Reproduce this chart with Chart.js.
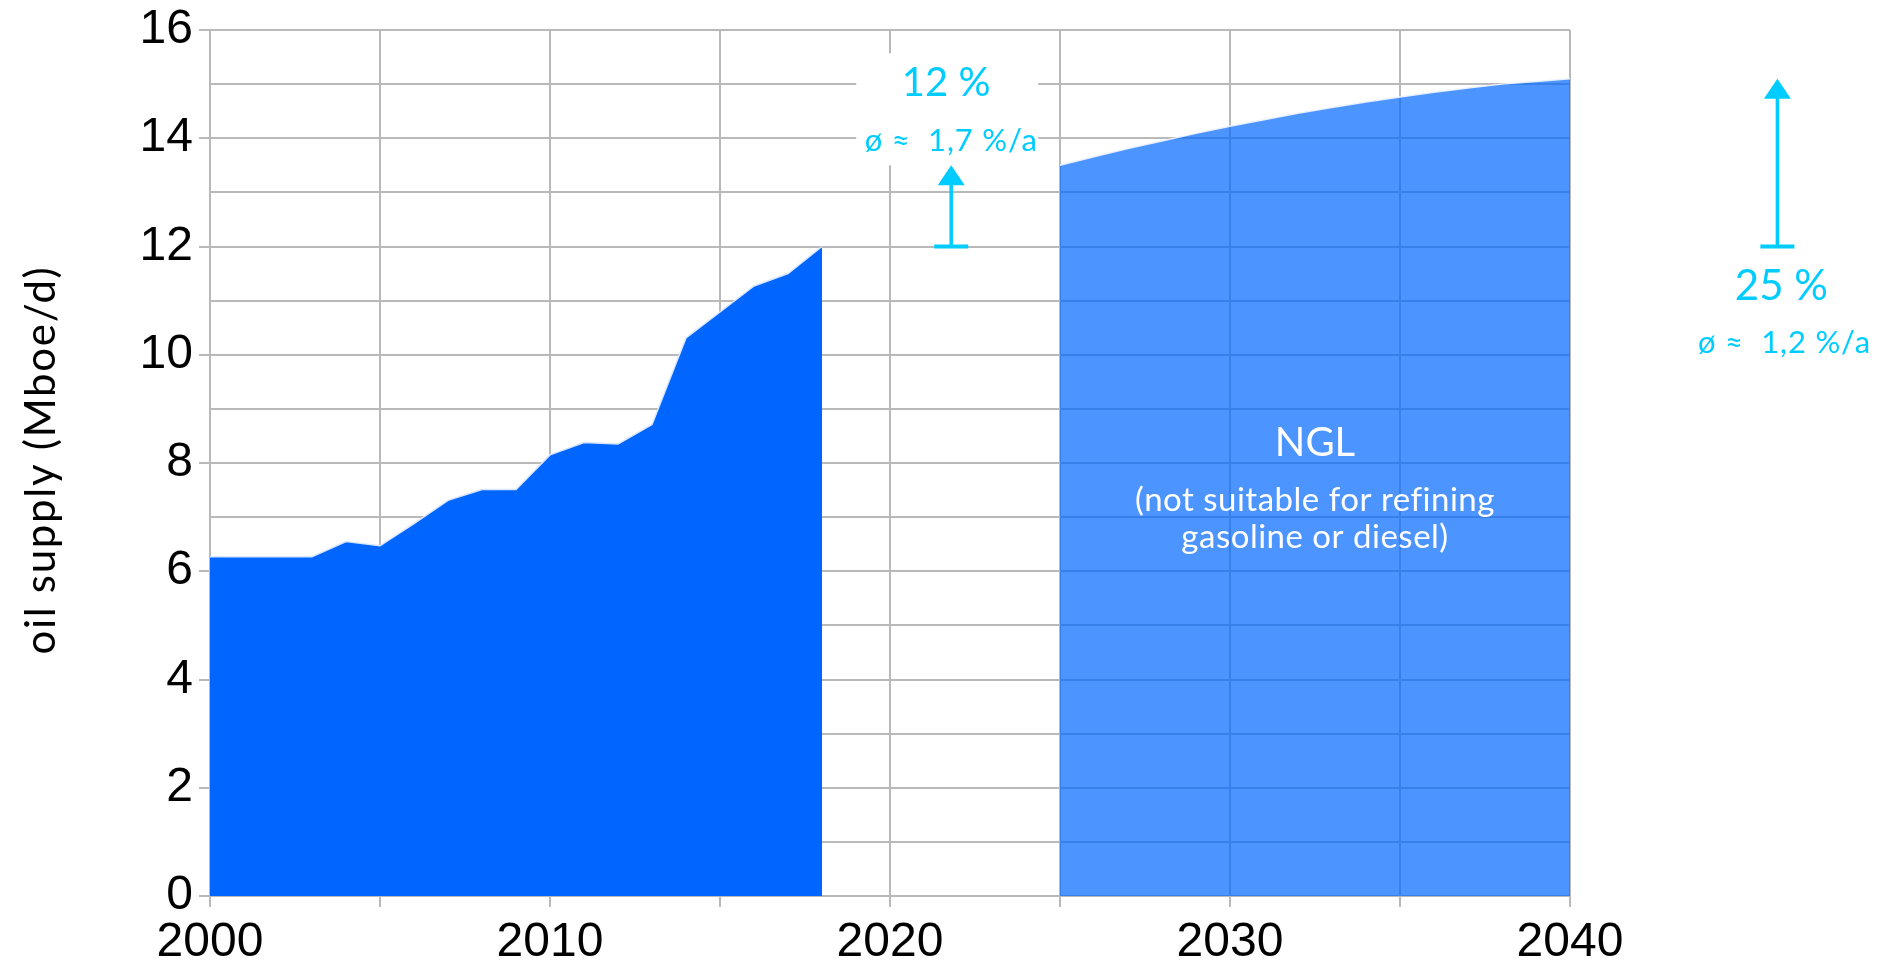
<!DOCTYPE html>
<html>
<head>
<meta charset="utf-8">
<script src="https://cdn.jsdelivr.net/npm/chart.js@4.4.1/dist/chart.umd.min.js"></script>
<style>
  html, body { margin: 0; padding: 0; background: #ffffff; }
  #wrap { width: 1891px; height: 964px; }
</style>
</head>
<body>
<div id="wrap"><canvas id="chart" width="1891" height="964"></canvas></div>
<script>
// Historical NGL supply (Mboe/d)
const histYears  = [2000, 2001, 2002, 2003, 2004, 2005, 2006, 2007, 2008, 2009,
                    2010, 2011, 2012, 2013, 2014, 2015, 2016, 2017, 2018];
const histSupply = [6.27, 6.27, 6.27, 6.27, 6.55, 6.47, 6.88, 7.31, 7.51, 7.51,
                    8.15, 8.38, 8.35, 8.71, 10.31, 10.79, 11.27, 11.50, 12.0];

// Projected NGL supply (Mboe/d)
const fcYears  = [2025, 2026, 2027, 2028, 2029, 2030, 2031, 2032,
                  2033, 2034, 2035, 2036, 2037, 2038, 2039, 2040];
const fcSupply = [13.5, 13.66, 13.81, 13.95, 14.09, 14.22, 14.34, 14.46,
                  14.57, 14.67, 14.76, 14.85, 14.93, 15.0, 15.05, 15.1];

// Axis tick labels
const xTickLabels = [2000, 2010, 2020, 2030, 2040];
const yTickLabels = [0, 2, 4, 6, 8, 10, 12, 14, 16];

// Annotation texts
const axisTitle   = 'oil supply (Mboe/d)';
const growthNear  = ['12 %', 'ø ≈  1,7 %/a'];
const growthFar   = ['25 %', 'ø ≈  1,2 %/a'];
const areaLabel   = ['NGL', '(not suitable for refining', 'gasoline or diesel)'];

const GRID = '#b9b9b9';
const CYAN = '#00ccff';

function drawArrow(ctx, x, yBase, yTip) {
  ctx.save();
  ctx.fillStyle = CYAN;
  // base bar
  ctx.fillRect(x - 17, yBase - 2, 34, 4);
  // shaft
  ctx.fillRect(x - 1.75, yTip + 18, 3.5, yBase - yTip - 18);
  // head
  ctx.beginPath();
  ctx.moveTo(x, yTip);
  ctx.lineTo(x + 13.5, yTip + 20);
  ctx.lineTo(x - 13.5, yTip + 20);
  ctx.closePath();
  ctx.fill();
  ctx.restore();
}

function text(ctx, str, x, y, font, color, spacing) {
  ctx.save();
  ctx.font = font;
  ctx.fillStyle = color;
  ctx.textAlign = 'center';
  ctx.textBaseline = 'alphabetic';
  ctx.letterSpacing = (spacing || 0) + 'px';
  ctx.fillText(str, x, y);
  ctx.restore();
}

const annotations = {
  id: 'annotations',
  afterDatasetsDraw(chart) {
    const { ctx, scales: { x, y } } = chart;
    const base  = histSupply[histSupply.length - 1];
    const start = fcSupply[0];
    const end   = fcSupply[fcSupply.length - 1];
    const yBase = y.getPixelForValue(base);

    // growth until the start of the projection
    const ax1 = x.getPixelForValue(2021.8);
    const tip1 = y.getPixelForValue(start);
    ctx.save();
    ctx.fillStyle = '#ffffff';
    ctx.fillRect(ax1 - 95, tip1 - 112, 182, 112);
    ctx.restore();
    drawArrow(ctx, ax1, yBase, tip1);
    text(ctx, growthNear[0], ax1 - 5, tip1 - 69, '40px Lato', CYAN, 0);
    text(ctx, growthNear[1], ax1, tip1 - 14, '31px Lato', CYAN, 0.8);

    // growth until the end of the projection
    const ax2 = x.getPixelForValue(2046.1);
    const tip2 = y.getPixelForValue(end);
    drawArrow(ctx, ax2, yBase, tip2);
    text(ctx, growthFar[0], ax2 + 4, yBase + 53, '42px Lato', CYAN, 0);
    text(ctx, growthFar[1], ax2 + 7, yBase + 106, '31px Lato', CYAN, 0.8);

    // label inside the projected area
    const cx = x.getPixelForValue((fcYears[0] + fcYears[fcYears.length - 1]) / 2);
    const y8 = y.getPixelForValue(8);
    text(ctx, areaLabel[0], cx, y8 - 7, '40px Lato', '#ffffff', 0);
    text(ctx, areaLabel[1], cx, y8 + 48, '33px Lato', '#ffffff', 0.5);
    text(ctx, areaLabel[2], cx, y8 + 85, '33px Lato', '#ffffff', 0.5);

    // y axis title
    ctx.save();
    ctx.translate(55, (chart.chartArea.top + chart.chartArea.bottom) / 2 - 3);
    ctx.rotate(-Math.PI / 2);
    text(ctx, axisTitle, 0, 0, '42px Lato', '#000000', 1.7);
    ctx.restore();
  }
};

new Chart(document.getElementById('chart'), {
  type: 'line',
  data: {
    datasets: [
      {
        data: histYears.map((yr, i) => ({ x: yr, y: histSupply[i] })),
        fill: 'origin',
        backgroundColor: '#0066ff',
        borderColor: '#d8e6ff',
        borderWidth: 1.5,
        pointRadius: 0,
        tension: 0
      },
      {
        data: fcYears.map((yr, i) => ({ x: yr, y: fcSupply[i] })),
        fill: 'origin',
        backgroundColor: 'rgba(0,102,255,0.7)',
        borderColor: 'rgba(235,242,255,0.95)',
        borderWidth: 1.5,
        pointRadius: 0,
        tension: 0
      }
    ]
  },
  options: {
    responsive: false,
    animation: false,
    layout: { padding: { top: 22, right: 321, bottom: 0, left: 0 } },
    plugins: { legend: { display: false }, tooltip: { enabled: false } },
    scales: {
      x: {
        type: 'linear',
        min: 2000,
        max: 2040,
        ticks: {
          stepSize: 5,
          autoSkip: false,
          maxRotation: 0,
          padding: 7,
          color: '#000000',
          font: { family: 'Liberation Sans', size: 48 },
          callback: v => (xTickLabels.includes(v) ? String(v) : '')
        },
        grid: { color: GRID, lineWidth: 2, tickLength: 11, tickColor: GRID },
        border: { color: GRID, width: 2 },
        afterFit(scale) { scale.height = 68; }
      },
      y: {
        type: 'linear',
        min: 0,
        max: 16,
        ticks: {
          stepSize: 1,
          autoSkip: false,
          padding: 6,
          color: '#000000',
          font: { family: 'Liberation Sans', size: 48, lineHeight: 1 },
          callback: v => (yTickLabels.includes(v) ? String(v) : '')
        },
        grid: {
          color: GRID,
          lineWidth: 2,
          tickLength: 11,
          tickColor: c => (yTickLabels.includes(c.tick.value) ? GRID : 'rgba(0,0,0,0)')
        },
        border: { color: GRID, width: 2 },
        afterFit(scale) { scale.width = 210; }
      }
    }
  },
  plugins: [annotations]
});
</script>
</body>
</html>
